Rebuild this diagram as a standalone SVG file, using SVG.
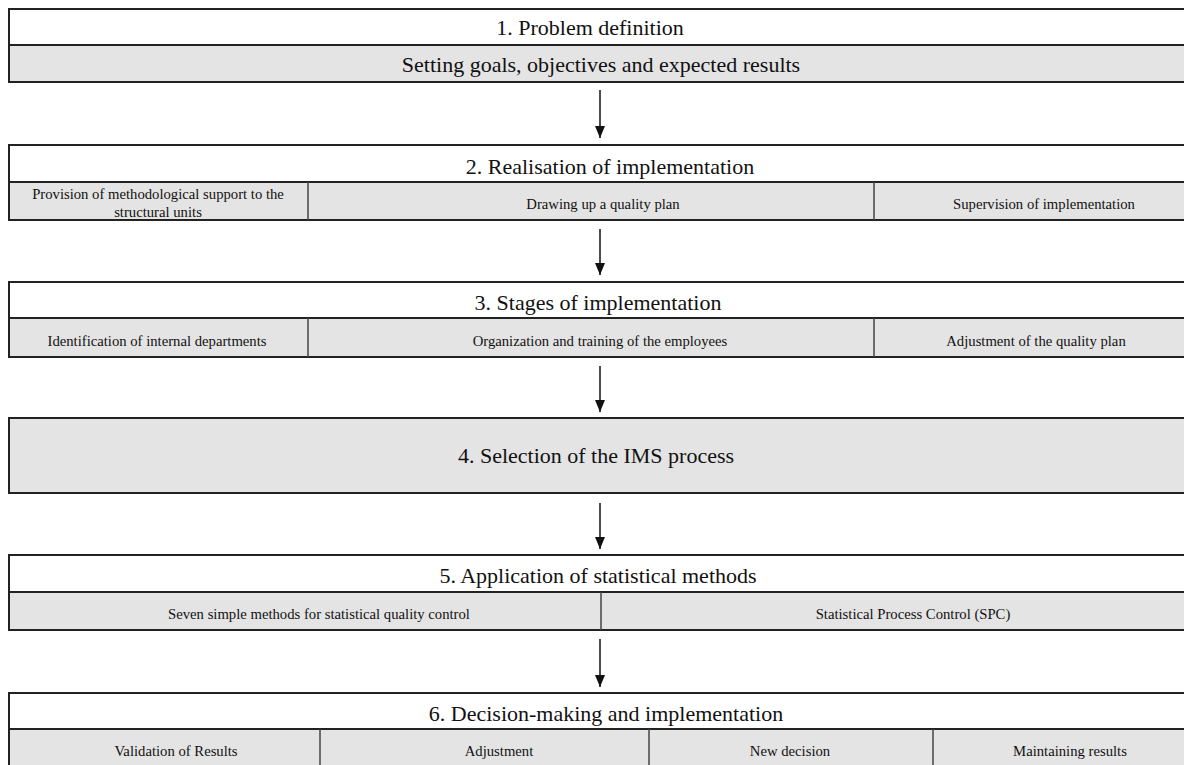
<svg xmlns="http://www.w3.org/2000/svg" width="1184" height="765" viewBox="0 0 1184 765">
<style>
.bg{fill:#ffffff}
.w{fill:#ffffff;stroke:#222;stroke-width:2}
.g{fill:#e4e4e4;stroke:#222;stroke-width:2}
.d{stroke:#444;stroke-width:1.5;fill:none}
.t{font-family:"Liberation Serif","Times New Roman",serif;font-size:22px;fill:#111;text-anchor:middle}
.s{font-family:"Liberation Serif","Times New Roman",serif;font-size:14.7px;fill:#111;text-anchor:middle}
.c{stroke:#111;stroke-width:1.5;fill:none;marker-end:url(#ah)}
</style>
<defs>
<marker id="ah" markerWidth="12" markerHeight="10" refX="12" refY="5" orient="auto" markerUnits="userSpaceOnUse" viewBox="0 0 12 10">
<path d="M0,0 L12,5 L0,10 Z" fill="#111"/>
</marker>
</defs>
<rect class="bg" x="0" y="0" width="1184" height="765"/>
<g id="node1">
<rect class="w" x="9" y="9" width="1200" height="36"/>
<rect class="g" x="9" y="45" width="1200" height="37"/>
<text class="t" x="590" y="35">1. Problem definition</text>
<text class="t" x="601" y="72">Setting goals, objectives and expected results</text>
</g>
<g id="node2">
<rect class="w" x="9" y="145" width="1200" height="37"/>
<rect class="g" x="9" y="182" width="1200" height="38"/>
<line class="d" x1="308" y1="182" x2="308" y2="220"/>
<line class="d" x1="874" y1="182" x2="874" y2="220"/>
<text class="t" x="610" y="174">2. Realisation of implementation</text>
<text class="s" x="158" y="199">Provision of methodological support to the</text>
<text class="s" x="158" y="217">structural units</text>
<text class="s" x="603" y="209">Drawing up a quality plan</text>
<text class="s" x="1044" y="209">Supervision of implementation</text>
</g>
<g id="node3">
<rect class="w" x="9" y="282" width="1200" height="36"/>
<rect class="g" x="9" y="318" width="1200" height="39"/>
<line class="d" x1="308" y1="318" x2="308" y2="357"/>
<line class="d" x1="874" y1="318" x2="874" y2="357"/>
<text class="t" x="598" y="310">3. Stages of implementation</text>
<text class="s" x="157" y="346">Identification of internal departments</text>
<text class="s" x="600" y="346">Organization and training of the employees</text>
<text class="s" x="1036" y="346">Adjustment of the quality plan</text>
</g>
<g id="node4">
<rect class="g" x="9" y="418" width="1200" height="75"/>
<text class="t" x="596" y="463">4. Selection of the IMS process</text>
</g>
<g id="node5">
<rect class="w" x="9" y="555" width="1200" height="37"/>
<rect class="g" x="9" y="592" width="1200" height="38"/>
<line class="d" x1="601" y1="592" x2="601" y2="630"/>
<text class="t" x="598" y="583">5. Application of statistical methods</text>
<text class="s" x="319" y="619">Seven simple methods for statistical quality control</text>
<text class="s" x="913" y="619">Statistical Process Control (SPC)</text>
</g>
<g id="node6">
<rect class="w" x="9" y="693" width="1200" height="36"/>
<rect class="g" x="9" y="729" width="1200" height="50"/>
<line class="d" x1="320" y1="729" x2="320" y2="770"/>
<line class="d" x1="649" y1="729" x2="649" y2="770"/>
<line class="d" x1="933" y1="729" x2="933" y2="770"/>
<text class="t" x="606" y="721">6. Decision-making and implementation</text>
<text class="s" x="176" y="756">Validation of Results</text>
<text class="s" x="499" y="756">Adjustment</text>
<text class="s" x="790" y="756">New decision</text>
<text class="s" x="1070" y="756">Maintaining results</text>
</g>
<g id="connectors">
<line class="c" x1="600" y1="90" x2="600" y2="138"/>
<line class="c" x1="600" y1="229" x2="600" y2="275"/>
<line class="c" x1="600" y1="366" x2="600" y2="412"/>
<line class="c" x1="600" y1="503" x2="600" y2="549"/>
<line class="c" x1="600" y1="639" x2="600" y2="687"/>
</g>
</svg>
